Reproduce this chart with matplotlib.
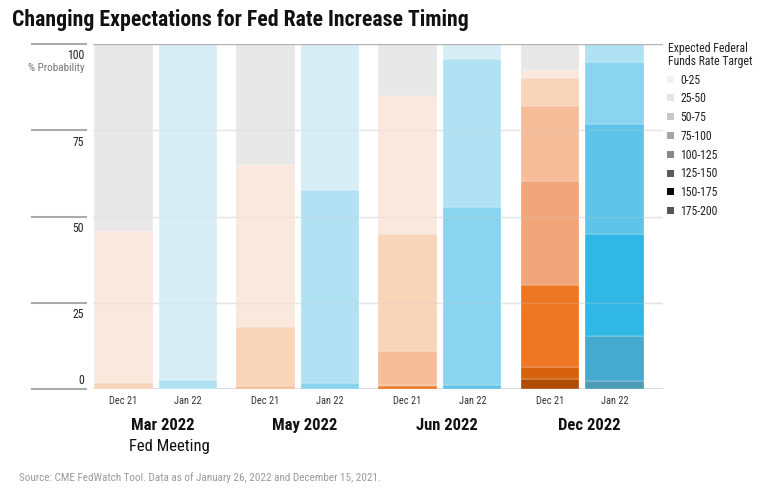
import numpy as np
import matplotlib.pyplot as plt
from matplotlib.patches import Rectangle
from matplotlib.transforms import blended_transform_factory

plt.rcParams["font.family"] = ["Liberation Sans Narrow", "Roboto Condensed",
                               "DejaVu Sans"]

# ----- data ---------------------------------------------------------------
meetings = ["Mar 2022", "May 2022", "Jun 2022", "Dec 2022"]
snapshots = ["Dec 21", "Jan 22"]
rate_bands = ["0-25", "25-50", "50-75", "75-100",
              "100-125", "125-150", "150-175", "175-200"]

# probability (%) per rate band, as of Dec 15 2021 and Jan 26 2022
mar_dec21 = [54.2, 44.1, 1.7, 0, 0, 0, 0, 0]
mar_jan22 = [0, 97.4, 2.6, 0, 0, 0, 0, 0]
may_dec21 = [35.0, 47.1, 17.0, 0.9, 0, 0, 0, 0]
may_jan22 = [0, 42.4, 56.0, 1.6, 0, 0, 0, 0]
jun_dec21 = [15.0, 40.0, 34.0, 9.9, 0.3, 0.8, 0, 0]
jun_jan22 = [0, 4.4, 42.8, 51.6, 1.2, 0, 0, 0]
dec_dec21 = [7.6, 2.3, 7.9, 21.8, 30.2, 23.8, 3.5, 2.9]
dec_jan22 = [0, 0, 5.1, 17.9, 32.2, 29.4, 13.1, 2.3]

dec21_probs = [mar_dec21, may_dec21, jun_dec21, dec_dec21]
jan22_probs = [mar_jan22, may_jan22, jun_jan22, dec_jan22]

# ----- styles -------------------------------------------------------------
dec21_colors = ["#E8E8E8", "#FAE8DE", "#F8D4B9", "#F5BD99",
                "#F0A67A", "#EE7723", "#D6620E", "#B04B04"]
jan22_colors = ["#E8E8E8", "#D8EEF7", "#B1E2F4", "#8AD4EF",
                "#5EC4E8", "#31B7E5", "#45A9D0", "#4C9BB7"]
legend_colors = ["#F2F2F2", "#E4E4E4", "#C8C8C8", "#A6A6A6",
                 "#888888", "#5A5A5A", "#080808", "#565656"]

W, H = 761, 489
fig = plt.figure(figsize=(W / 100, H / 100), dpi=100)
ax = fig.add_axes([93 / W, (H - 389.7) / H, 570 / W, 344.4 / H])

x = np.arange(len(meetings))
offset, width = 0.228, 0.41
ax.set_xlim(-0.442, 3.57)
ax.set_ylim(0, 100)

# background grid
for g in (25, 50, 75):
    ax.axhline(g, color="#EBEBEB", lw=1, zorder=0)

for probs_set, colors, sign in ((dec21_probs, dec21_colors, -1),
                                (jan22_probs, jan22_colors, 1)):
    for i, probs in enumerate(probs_set):
        bottom = 0.0
        # highest band at the bottom of the stack
        for band in range(len(rate_bands) - 1, -1, -1):
            v = probs[band]
            if v <= 0:
                continue
            ax.bar(x[i] + sign * offset, v, width, bottom=bottom,
                   color=colors[band], edgecolor="white", linewidth=0.2,
                   zorder=2)
            bottom += v

# faint grid on top of the bars
for g in (25, 50, 75):
    ax.axhline(g, color="#D0D0D0", lw=1, alpha=0.25, zorder=3)
ax.axhline(100, color="#B3B3B3", lw=1, zorder=4)
ax.axhline(0, color="#DADADA", lw=2.2, zorder=1)

for s in ax.spines.values():
    s.set_visible(False)
ax.set_xticks([])
ax.set_yticks([])

# y axis: short rules and labels to the left of the plot
tr = blended_transform_factory(fig.transFigure, ax.transData)
for t in (0, 25, 50, 75, 100):
    ax.plot([32 / W, 86 / W], [t, t], color="#ABABAB", lw=1.5,
            transform=tr, clip_on=False)
    dy = 2.6 if t == 0 else -3.1
    ax.text(84 / W, t + dy, str(t), transform=tr, ha="right", va="center",
            fontsize=8.5, color="#222222")
ax.text(84 / W, 93.3, "% Probability", transform=tr, ha="right",
        va="center", fontsize=8, color="#777777")

# x labels
for i in x:
    for j, sign in enumerate((-1, 1)):
        ax.text(i + sign * offset, -3.3, snapshots[j], ha="center",
                va="center", fontsize=7.5, color="#333333", clip_on=False)
    ax.text(i + 0.05, -10.45, meetings[i], ha="center", va="center",
            fontsize=12, fontweight="bold", color="#111111", clip_on=False)
ax.text(-0.19, -16.55, "Fed Meeting", ha="left", va="center",
        fontsize=12, color="#111111", clip_on=False)

# legend
fig.text(668 / W, 1 - 49 / H, "Expected Federal", fontsize=8.5,
         va="center", color="#222222")
fig.text(668 / W, 1 - 62 / H, "Funds Rate Target", fontsize=8.5,
         va="center", color="#222222")
for k, band in enumerate(rate_bands):
    yc = 80 + 18.8 * k
    fig.patches.append(Rectangle((666.5 / W, 1 - (yc + 3.5) / H), 7 / W,
                                 7 / H, transform=fig.transFigure,
                                 facecolor=legend_colors[k], edgecolor="none"))
    fig.text(680.5 / W, 1 - yc / H, band, fontsize=8.5, va="center",
             color="#222222")

fig.text(12 / W, 1 - 20 / H,
         "Changing Expectations for Fed Rate Increase Timing",
         fontsize=15.7, fontweight="bold", va="center", color="#111111")
fig.text(19 / W, 1 - 477.7 / H,
         "Source: CME FedWatch Tool. Data as of January 26, 2022 and "
         "December 15, 2021.", fontsize=8, va="center", color="#9A9A9A")

fig.savefig("out.png", dpi=100)
